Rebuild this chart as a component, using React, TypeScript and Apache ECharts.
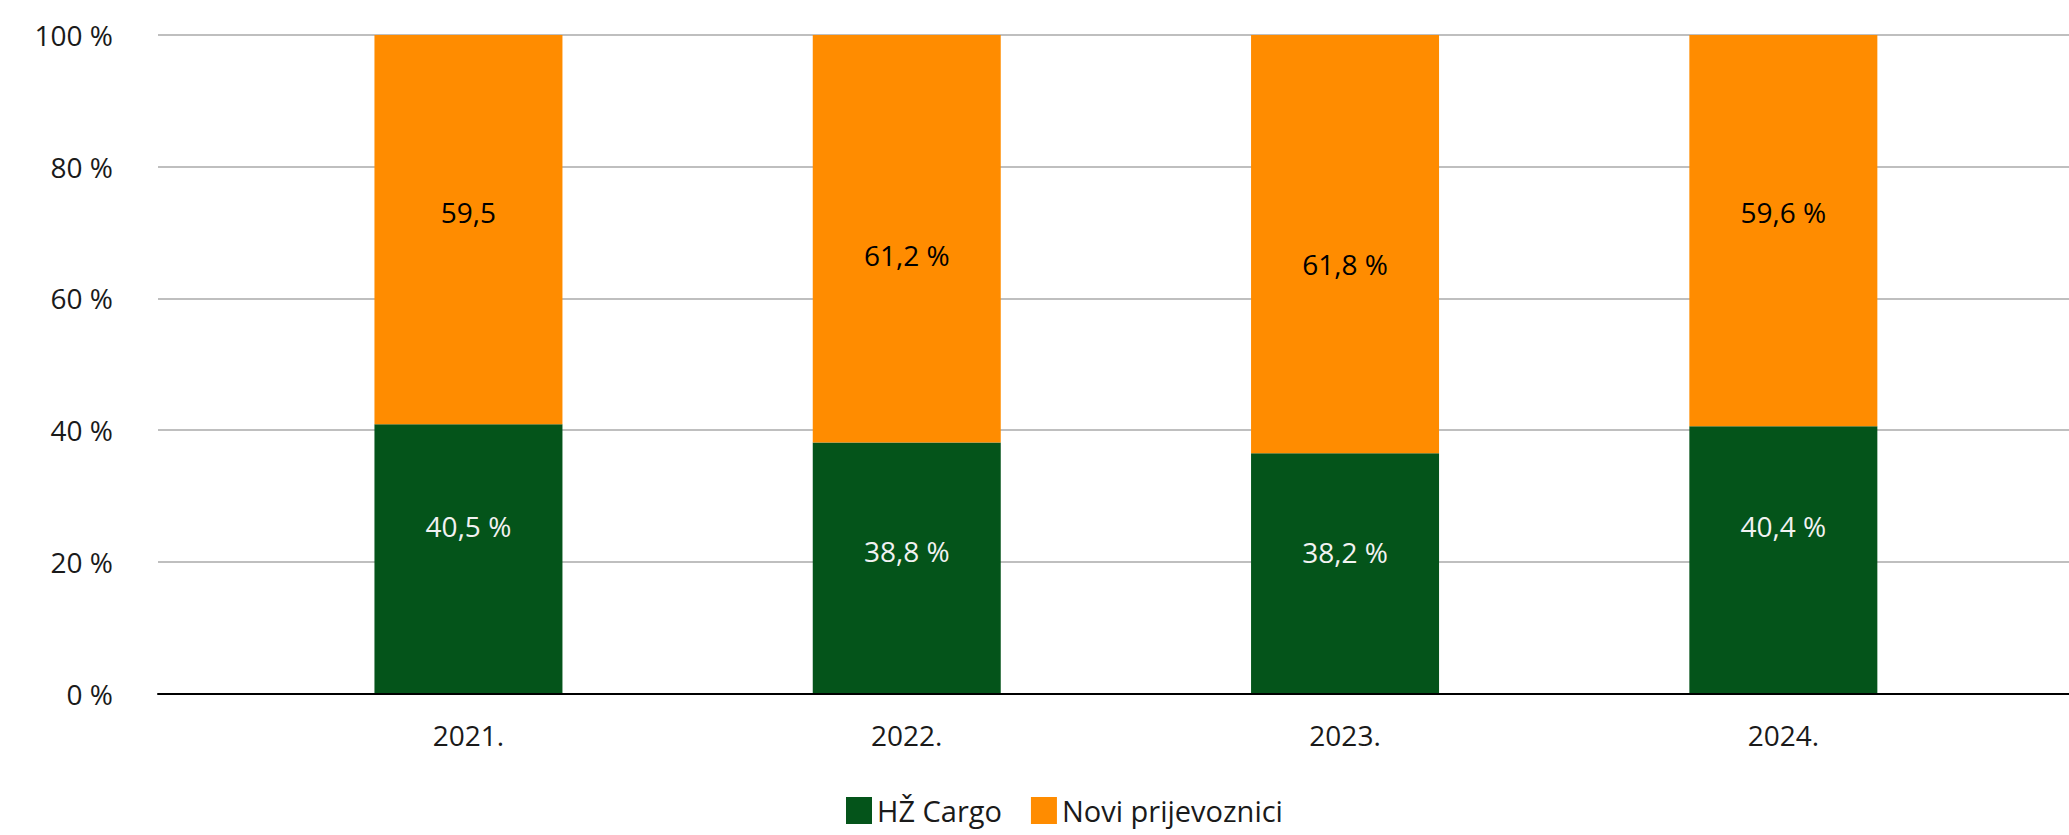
import React, { useEffect, useRef } from 'react';
import * as echarts from 'echarts';

// ---- data ----
const years = ['2021.', '2022.', '2023.', '2024.'];
const seriesNames = ['HŽ Cargo', 'Novi prijevoznici'];
const hzCargoShare = [40.9, 38.1, 36.5, 40.6];
const noviShare = [59.1, 61.9, 63.5, 59.4];
const hzCargoLabels = ['40,5 %', '38,8 %', '38,2 %', '40,4 %'];
const noviLabels = ['59,5', '61,2 %', '61,8 %', '59,6 %'];

// ---- styling ----
const FONT = "'Open Sans', 'Liberation Sans', sans-serif";
const GREEN = '#04541a';
const ORANGE = '#ff8c00';
const greenLabelDy = [-33, -17, -21, -34];
const orangeLabelDy = [-18, 16, 20, -19];

export default function App() {
  const ref = useRef<HTMLDivElement>(null);
  useEffect(() => {
    if (!ref.current) return;
    const chart = echarts.init(ref.current, undefined, { renderer: 'svg' });
    const top = 35;
    const bottom = 141.5;
    chart.setOption({
      animation: false,
      backgroundColor: '#ffffff',
      textStyle: { fontFamily: FONT },
      grid: [
        { left: 158, right: 0, top, bottom },
        { left: 249.3, right: 66.5, top, bottom },
      ],
      xAxis: [
        {
          gridIndex: 0,
          type: 'category',
          data: years,
          z: 10,
          axisLine: { lineStyle: { color: '#000', width: 2 } },
          axisTick: { show: false },
          axisLabel: { show: false },
          splitLine: { show: false },
        },
        {
          gridIndex: 1,
          type: 'category',
          data: years,
          axisLine: { show: false },
          axisTick: { show: false },
          axisLabel: { color: '#1a1a1a', fontSize: 28, fontFamily: FONT, margin: 27 },
        },
      ],
      yAxis: [
        {
          gridIndex: 0,
          type: 'value',
          min: 0,
          max: 100,
          interval: 20,
          axisLine: { show: false },
          axisTick: { show: false },
          axisLabel: { formatter: '{value} %', color: '#1a1a1a', fontSize: 28, fontFamily: FONT, margin: 45 },
          splitLine: { lineStyle: { color: '#bfbfbf', width: 2 } },
        },
        { gridIndex: 1, type: 'value', min: 0, max: 100, interval: 20, show: false },
      ],
      legend: {
        left: 841,
        top: 791,
        itemWidth: 26,
        itemHeight: 27,
        itemGap: 29,
        icon: 'rect',
        textStyle: { color: '#1a1a1a', fontSize: 29, lineHeight: 29, fontFamily: FONT },
        data: seriesNames,
      },
      series: [
        {
          name: seriesNames[0],
          type: 'bar',
          stack: 'total',
          xAxisIndex: 1,
          yAxisIndex: 1,
          barWidth: 188,
          itemStyle: { color: GREEN },
          label: {
            show: true,
            position: 'inside',
            color: '#f2f2f2',
            fontSize: 28,
            fontFamily: FONT,
            formatter: (p: any) => hzCargoLabels[p.dataIndex],
          },
          data: hzCargoShare.map((v, i) => ({ value: v, label: { offset: [0, greenLabelDy[i]] } })),
        },
        {
          name: seriesNames[1],
          type: 'bar',
          stack: 'total',
          xAxisIndex: 1,
          yAxisIndex: 1,
          barWidth: 188,
          itemStyle: { color: ORANGE },
          label: {
            show: true,
            position: 'inside',
            color: '#000',
            fontSize: 28,
            fontFamily: FONT,
            formatter: (p: any) => noviLabels[p.dataIndex],
          },
          data: noviShare.map((v, i) => ({ value: v, label: { offset: [0, orangeLabelDy[i]] } })),
        },
      ],
    });
    return () => chart.dispose();
  }, []);
  return (
    <div
      ref={ref}
      style={{ position: 'absolute', left: 0, top: 0, width: 2069, height: 835 }}
    />
  );
}
